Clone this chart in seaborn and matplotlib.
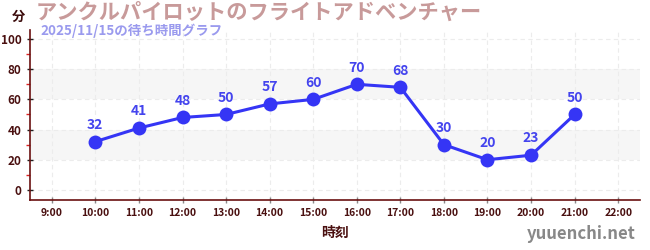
import matplotlib
matplotlib.use("Agg")
import matplotlib.pyplot as plt
import seaborn as sns
import pandas as pd
from matplotlib.ticker import MultipleLocator

sns.set_theme(style="white")
plt.rcParams['font.family'] = ['Noto Sans CJK JP', 'DejaVu Sans']

hours = [10, 11, 12, 13, 14, 15, 16, 17, 18, 19, 20, 21]
waits = [32, 41, 48, 50, 57, 60, 70, 68, 30, 20, 23, 50]
tick_hours = list(range(9, 23))
tick_labels = [f"{h}:00" for h in tick_hours]
title = "アンクルパイロットのフライトアドベンチャー"
subtitle = "2025/11/15の待ち時間グラフ"

df = pd.DataFrame({"hour": hours, "wait": waits})

fig = plt.figure(figsize=(6.5, 2.5), dpi=100)
ax = fig.add_axes([30/650, 50/250, 610/650, 170/250])

ax.set_xlim(8.5, 22.5)
ax.set_ylim(-6.7, 106)

for lo, hi in [(20, 40), (60, 80)]:
    ax.axhspan(lo, hi, color="#f6f6f6", zorder=0, lw=0)
for y in range(0, 101, 20):
    ax.axhline(y, color="#ececec", ls=(0, (4, 3)), lw=0.8, zorder=0.5)
for h in tick_hours:
    ax.axvline(h, color="#ececec", ls=(0, (4, 3)), lw=0.8, zorder=0.5)

sns.lineplot(data=df, x="hour", y="wait", ax=ax, color="#3535f5", lw=2.2,
             marker="o", markersize=10, markeredgewidth=0, zorder=3)

for h, w in zip(hours, waits):
    ax.annotate(str(w), (h, w), xytext=(0, 7), textcoords="offset points",
                ha="center", va="bottom", color="#4444ee", fontsize=10,
                fontweight="bold", zorder=4)

ax.set_xticks(tick_hours)
ax.set_xticklabels(tick_labels, fontsize=7.5, color="#4a1010", fontweight="bold")
ax.set_yticks(range(0, 101, 20))
ax.yaxis.set_minor_locator(MultipleLocator(10))
ax.tick_params(axis="y", which="major", length=5, width=1, color="#222222",
               labelsize=8.5, labelcolor="#4a1010", left=True, direction="inout")
ax.tick_params(axis="y", which="minor", length=3, width=1, color="#dd2222", left=True)
ax.tick_params(axis="x", which="major", length=4, width=1, color="#888888",
               bottom=True, direction="inout")
for lbl in ax.get_yticklabels():
    lbl.set_fontweight("bold")

for s in ["top", "right"]:
    ax.spines[s].set_visible(False)
for s in ["left", "bottom"]:
    ax.spines[s].set_color("#6a1010")
    ax.spines[s].set_linewidth(1.2)

ax.set_xlabel("時刻", fontsize=10, color="#4a1010", fontweight="bold", labelpad=6)
ax.set_ylabel("")

fig.text(18/650, 1 - 17/250, "分", ha="center", va="center", fontsize=9.5,
         color="#3a0a0a", fontweight="bold")
fig.text(36/650, 1 - 12/250, title, ha="left", va="center", fontsize=15.3,
         color="#c89a9a", fontweight="bold")
fig.text(40/650, 1 - 31/250, subtitle, ha="left", va="center", fontsize=9.7,
         color="#9a9aee", fontweight="bold")
fig.text(636/650, 1 - 234/250, "yuuenchi.net", ha="right", va="center",
         fontsize=12, color="#888888", fontweight="bold")

fig.savefig("out.png", dpi=100)
